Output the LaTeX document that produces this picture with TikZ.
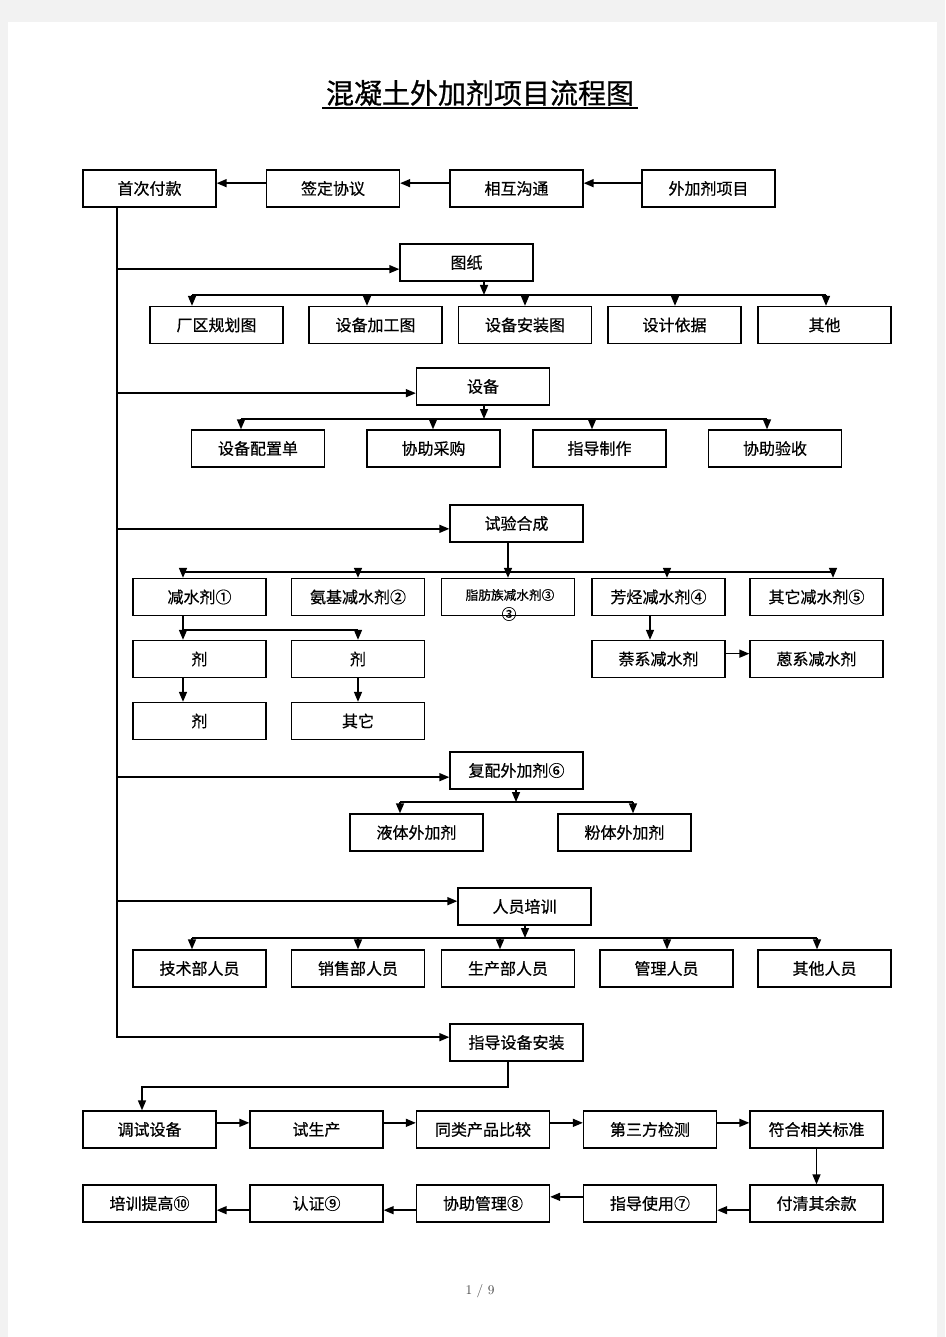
\documentclass[tikz,border=0pt]{standalone}
\usepackage{fontspec}
\newfontfamily\cjk[FakeBold=0.6]{Noto Sans CJK SC}
\newfontfamily\cjktitle[FakeBold=0.8]{Noto Sans CJK SC}
\usetikzlibrary{arrows.meta}
\begin{document}
\begin{tikzpicture}[x=0.75pt,y=-0.75pt,
  box/.style={draw,line width=1pt,minimum width=99.75pt,minimum height=27.75pt,inner sep=0pt,font=\cjk\fontsize{12}{14}\selectfont},
  arr/.style={-{Triangle[length=7.5pt,width=6pt]},line width=1.1pt},
  ln/.style={line width=1.1pt}]
\fill[black!5] (0,0) rectangle (945,1337);
\fill[white] (8,22) rectangle (937,1337);
\useasboundingbox (0,0) rectangle (945,1337);
% title
\node[font=\cjktitle\fontsize{21}{25}\selectfont] (title) at (480,93) {混凝土外加剂项目流程图};
\draw[line width=1.3pt] (322,108) -- (638,108);
% row 1
\node[box] (fk) at (149.5,188.5) {首次付款};
\node[box] (xy) at (333,188.5) {签定协议};
\node[box] (gt) at (516.5,188.5) {相互沟通};
\node[box] (wj) at (708.5,188.5) {外加剂项目};
\draw[arr] ([yshift=4pt]wj.west) -- ([yshift=4pt]gt.east);
\draw[arr] ([yshift=4pt]gt.west) -- ([yshift=4pt]xy.east);
\draw[arr] ([yshift=4pt]xy.west) -- ([yshift=4pt]fk.east);
\coordinate (tr) at (117,0);
% 图纸
\node[box] (tz) at (466.5,262.5) {图纸};
\node[box] (tz1) at (216.5,325) {厂区规划图};
\node[box] (tz2) at (375.5,325) {设备加工图};
\node[box] (tz3) at (525,325) {设备安装图};
\node[box] (tz4) at (674.5,325) {设计依据};
\node[box] (tz5) at (824.5,325) {其他};
\draw[arr] ([yshift=-5pt]tz.west -| tr) -- ([yshift=-5pt]tz.west);
\coordinate (btz) at (484,295);
\draw[arr] (tz.south -| btz) -- (btz);
\draw[ln] (192,295) -- (826,295);
\foreach \x/\n in {192/tz1,367/tz2,525/tz3,675/tz4,826/tz5}
  \draw[arr] (\x,295) -- (\n.north -| \x,0);
% 设备
\node[box] (sb) at (483,386.5) {设备};
\node[box] (sb1) at (258,448.5) {设备配置单};
\node[box] (sb2) at (433.5,448.5) {协助采购};
\node[box] (sb3) at (599.5,448.5) {指导制作};
\node[box] (sb4) at (775,448.5) {协助验收};
\draw[arr] ([yshift=-5pt]sb.west -| tr) -- ([yshift=-5pt]sb.west);
\coordinate (bsb) at (484,419);
\draw[arr] (sb.south -| bsb) -- (bsb);
\draw[ln] (241,419) -- (767,419);
\foreach \x/\n in {241/sb1,433/sb2,592/sb3,767/sb4}
  \draw[arr] (\x,419) -- (\n.north -| \x,0);
% 试验合成
\node[box] (sy) at (516.5,523.5) {试验合成};
\node[box] (sy1) at (199.5,597) {减水剂①};
\node[box] (sy2) at (358,597) {氨基减水剂②};
\node[box] (sy3) at (508,597) {};
\node[font=\cjk\fontsize{9.5}{11}\selectfont,inner sep=0pt] (sy3a) at (510,595) {脂肪族减水剂③};
\node[font=\cjk\fontsize{11}{12}\selectfont,inner sep=0pt] (sy3b) at (509,614) {③};
\node[box] (sy4) at (658.5,597) {芳烃减水剂④};
\node[box] (sy5) at (816.5,597) {其它减水剂⑤};
\draw[arr] ([yshift=-4pt]sy.west -| tr) -- ([yshift=-4pt]sy.west);
\draw[ln] (183,572) -- (833,572);
\draw[arr] (sy.south -| 508,0) -- (sy3.north -| 508,0);
\foreach \x/\n in {183/sy1,358/sy2,667/sy4,833/sy5}
  \draw[arr] (\x,572) -- (\n.north -| \x,0);
% sub boxes
\node[box] (ja) at (199.5,659) {剂};
\node[box] (jb) at (358,659) {剂};
\node[box] (jc) at (199.5,721) {剂};
\node[box] (qt) at (358,721) {其它};
\node[box] (nx) at (658.5,659) {萘系减水剂};
\node[box] (ex) at (816.5,659) {蒽系减水剂};
\draw[ln] (sy1.south -| 183,0) -- (183,630) -- (358,630);
\draw[arr] (183,630) -- (ja.north -| 183,0);
\draw[arr] (358,630) -- (jb.north -| 358,0);
\draw[arr] (ja.south -| 183,0) -- (jc.north -| 183,0);
\draw[arr] (jb.south -| 358,0) -- (qt.north -| 358,0);
\draw[arr] (sy4.south -| 650,0) -- (nx.north -| 650,0);
\draw[arr] ([yshift=4pt]nx.east) -- ([yshift=4pt]ex.west);
% 复配
\node[box] (fp) at (516.5,770.5) {复配外加剂⑥};
\node[box] (fp1) at (416.5,832.5) {液体外加剂};
\node[box] (fp2) at (624.5,832.5) {粉体外加剂};
\draw[arr] ([yshift=-5pt]fp.west -| tr) -- ([yshift=-5pt]fp.west);
\coordinate (bfp) at (516,802);
\draw[arr] (fp.south -| bfp) -- (bfp);
\draw[line width=1.8pt] (400,802) -- (633,802);
\draw[arr] (400,802) -- (fp1.north -| 400,0);
\draw[arr] (633,802) -- (fp2.north -| 633,0);
% 人员培训
\node[box] (px) at (524.5,906.5) {人员培训};
\node[box] (px1) at (199.5,968.5) {技术部人员};
\node[box] (px2) at (358,968.5) {销售部人员};
\node[box] (px3) at (508,968.5) {生产部人员};
\node[box] (px4) at (666.5,968.5) {管理人员};
\node[box] (px5) at (824.5,968.5) {其他人员};
\draw[arr] ([yshift=4pt]px.west -| tr) -- ([yshift=4pt]px.west);
\coordinate (bpx) at (525,938);
\draw[arr] (px.south -| bpx) -- (bpx);
\draw[ln] (192,938) -- (817,938);
\foreach \x/\n in {192/px1,358/px2,500/px3,667/px4,817/px5}
  \draw[arr] (\x,938) -- (\n.north -| \x,0);
% 指导设备安装
\node[box] (az) at (516.5,1042.5) {指导设备安装};
\draw[arr] (fk.south -| tr) -- ([yshift=4pt]az.west -| tr) -- ([yshift=4pt]az.west);
% bottom rows
\node[box] (a1) at (149.5,1129.5) {调试设备};
\node[box] (a2) at (316.5,1129.5) {试生产};
\node[box] (a3) at (483,1129.5) {同类产品比较};
\node[box] (a4) at (650,1129.5) {第三方检测};
\node[box] (a5) at (816.5,1129.5) {符合相关标准};
\node[box] (b1) at (149.5,1203.5) {培训提高⑩};
\node[box] (b2) at (316.5,1203.5) {认证⑨};
\node[box] (b3) at (483,1203.5) {协助管理⑧};
\node[box] (b4) at (650,1203.5) {指导使用⑦};
\node[box] (b5) at (816.5,1203.5) {付清其余款};
\draw[arr] (az.south -| 508,0) -- (508,1087) -- (142,1087) -- (a1.north -| 142,0);
\draw[arr] ([yshift=5pt]a1.east) -- ([yshift=5pt]a2.west);
\draw[arr] ([yshift=5pt]a2.east) -- ([yshift=5pt]a3.west);
\draw[arr] ([yshift=5pt]a3.east) -- ([yshift=5pt]a4.west);
\draw[arr] ([yshift=5pt]a4.east) -- ([yshift=5pt]a5.west);
\draw[arr] (a5.south) -- (b5.north);
\draw[arr] ([yshift=-5pt]b5.west) -- ([yshift=-5pt]b4.east);
\draw[arr] ([yshift=5pt]b4.west) -- ([yshift=5pt]b3.east);
\draw[arr] ([yshift=-5pt]b3.west) -- ([yshift=-5pt]b2.east);
\draw[arr] ([yshift=-5pt]b2.west) -- ([yshift=-5pt]b1.east);
% page number
\node[font=\fontsize{10}{12}\selectfont,text=black!70] (pg) at (480,1291) {1 / 9};
\end{tikzpicture}
\end{document}
